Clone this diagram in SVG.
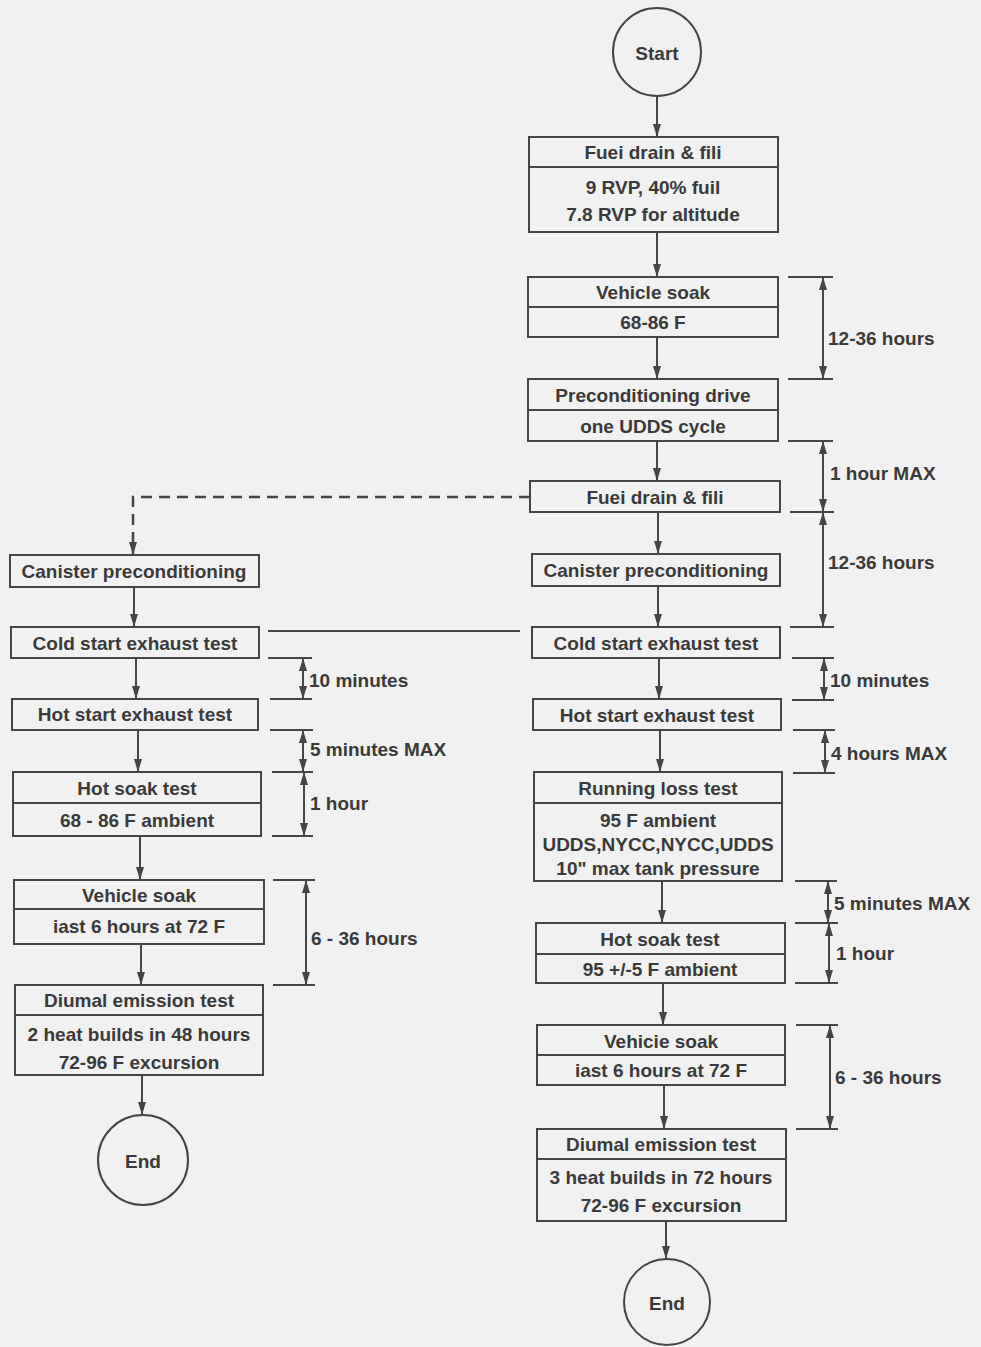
<svg xmlns="http://www.w3.org/2000/svg" width="981" height="1347" viewBox="0 0 981 1347">
<defs>
<style>
.bx{fill:none;stroke:#454545;stroke-width:2}
.ln{fill:none;stroke:#454545;stroke-width:2}
.dash{fill:none;stroke:#454545;stroke-width:2.5;stroke-dasharray:11 7}
.t{font-family:"Liberation Sans",Arial,Helvetica,sans-serif;font-weight:bold;font-size:19px;fill:#3a3a3a;text-anchor:middle;dominant-baseline:central}
.l{text-anchor:start}
</style>
<marker id="ah" viewBox="0 0 13 8" refX="13" refY="4" markerWidth="13" markerHeight="8" markerUnits="userSpaceOnUse" orient="auto-start-reverse">
<path d="M0,0 L13,4 L0,8 z" fill="#454545"/>
</marker>
</defs>
<rect width="981" height="1347" fill="#f1f1f1"/>

<!-- Right column nodes -->
<g id="start">
<circle class="bx" cx="657" cy="52" r="44"/>
<text class="t" x="657" y="53">Start</text>
</g>
<g id="fuel1">
<rect class="bx" x="529" y="137" width="249" height="95"/>
<line class="ln" x1="529" y1="167" x2="778" y2="167"/>
<text class="t" x="653" y="152">Fuei drain &amp; fili</text>
<text class="t" x="653" y="187">9 RVP, 40% fuil</text>
<text class="t" x="653" y="214">7.8 RVP for altitude</text>
</g>
<g id="soak1">
<rect class="bx" x="528" y="277" width="250" height="60"/>
<line class="ln" x1="528" y1="307" x2="778" y2="307"/>
<text class="t" x="653" y="292">Vehicle soak</text>
<text class="t" x="653" y="322">68-86 F</text>
</g>
<g id="precond">
<rect class="bx" x="528" y="379" width="250" height="62"/>
<line class="ln" x1="528" y1="410" x2="778" y2="410"/>
<text class="t" x="653" y="395">Preconditioning drive</text>
<text class="t" x="653" y="426">one UDDS cycle</text>
</g>
<g id="fuel2">
<rect class="bx" x="530" y="481" width="250" height="31"/>
<text class="t" x="655" y="497">Fuei drain &amp; fili</text>
</g>
<g id="canisterR">
<rect class="bx" x="532" y="554" width="248" height="32"/>
<text class="t" x="656" y="570">Canister preconditioning</text>
</g>
<g id="coldR">
<rect class="bx" x="532" y="627" width="248" height="31"/>
<text class="t" x="656" y="643">Cold start exhaust test</text>
</g>
<g id="hotR">
<rect class="bx" x="533" y="699" width="248" height="31"/>
<text class="t" x="657" y="715">Hot start exhaust test</text>
</g>
<g id="running">
<rect class="bx" x="534" y="772" width="248" height="109"/>
<line class="ln" x1="534" y1="803" x2="782" y2="803"/>
<text class="t" x="658" y="788">Running loss test</text>
<text class="t" x="658" y="820">95 F ambient</text>
<text class="t" x="658" y="844">UDDS,NYCC,NYCC,UDDS</text>
<text class="t" x="658" y="868">10" max tank pressure</text>
</g>
<g id="hotsoakR">
<rect class="bx" x="536" y="923" width="249" height="60"/>
<line class="ln" x1="536" y1="954" x2="785" y2="954"/>
<text class="t" x="660" y="939">Hot soak test</text>
<text class="t" x="660" y="969">95 +/-5 F ambient</text>
</g>
<g id="soakR">
<rect class="bx" x="537" y="1025" width="248" height="60"/>
<line class="ln" x1="537" y1="1055" x2="785" y2="1055"/>
<text class="t" x="661" y="1041">Vehicie soak</text>
<text class="t" x="661" y="1070">iast 6 hours at 72 F</text>
</g>
<g id="diurnalR">
<rect class="bx" x="537" y="1129" width="249" height="92"/>
<line class="ln" x1="537" y1="1159" x2="786" y2="1159"/>
<text class="t" x="661" y="1144">Diumal emission test</text>
<text class="t" x="661" y="1177">3 heat builds in 72 hours</text>
<text class="t" x="661" y="1205">72-96 F excursion</text>
</g>
<g id="endR">
<circle class="bx" cx="667" cy="1302" r="43"/>
<text class="t" x="667" y="1303">End</text>
</g>

<!-- Left column nodes -->
<g id="canisterL">
<rect class="bx" x="10" y="555" width="249" height="32"/>
<text class="t" x="134" y="571">Canister preconditioning</text>
</g>
<g id="coldL">
<rect class="bx" x="11" y="627" width="248" height="31"/>
<text class="t" x="135" y="643">Cold start exhaust test</text>
</g>
<g id="hotL">
<rect class="bx" x="12" y="699" width="246" height="31"/>
<text class="t" x="135" y="714">Hot start exhaust test</text>
</g>
<g id="hotsoakL">
<rect class="bx" x="13" y="772" width="248" height="64"/>
<line class="ln" x1="13" y1="803" x2="261" y2="803"/>
<text class="t" x="137" y="788">Hot soak test</text>
<text class="t" x="137" y="820">68 - 86 F ambient</text>
</g>
<g id="soakL">
<rect class="bx" x="14" y="880" width="250" height="64"/>
<line class="ln" x1="14" y1="909" x2="264" y2="909"/>
<text class="t" x="139" y="895">Vehicle soak</text>
<text class="t" x="139" y="926">iast 6 hours at 72 F</text>
</g>
<g id="diurnalL">
<rect class="bx" x="15" y="985" width="248" height="90"/>
<line class="ln" x1="15" y1="1015" x2="263" y2="1015"/>
<text class="t" x="139" y="1000">Diumal emission test</text>
<text class="t" x="139" y="1034">2 heat builds in 48 hours</text>
<text class="t" x="139" y="1062">72-96 F excursion</text>
</g>
<g id="endL">
<circle class="bx" cx="143" cy="1160" r="45"/>
<text class="t" x="143" y="1161">End</text>
</g>

<!-- Connectors -->
<g id="connectors">
<line class="ln" x1="657" y1="96" x2="657" y2="137" marker-end="url(#ah)"/>
<line class="ln" x1="657" y1="232" x2="657" y2="277" marker-end="url(#ah)"/>
<line class="ln" x1="657" y1="337" x2="657" y2="379" marker-end="url(#ah)"/>
<line class="ln" x1="657" y1="441" x2="657" y2="481" marker-end="url(#ah)"/>
<line class="ln" x1="658" y1="512" x2="658" y2="554" marker-end="url(#ah)"/>
<line class="ln" x1="658" y1="586" x2="658" y2="627" marker-end="url(#ah)"/>
<line class="ln" x1="659" y1="658" x2="659" y2="699" marker-end="url(#ah)"/>
<line class="ln" x1="660" y1="730" x2="660" y2="772" marker-end="url(#ah)"/>
<line class="ln" x1="662" y1="881" x2="662" y2="923" marker-end="url(#ah)"/>
<line class="ln" x1="663" y1="983" x2="663" y2="1025" marker-end="url(#ah)"/>
<line class="ln" x1="664" y1="1085" x2="664" y2="1129" marker-end="url(#ah)"/>
<line class="ln" x1="666" y1="1221" x2="666" y2="1259" marker-end="url(#ah)"/>
<path class="dash" d="M530,497 H133 V555" marker-end="url(#ah)"/>
<line class="ln" x1="134" y1="587" x2="134" y2="627" marker-end="url(#ah)"/>
<line class="ln" x1="136" y1="658" x2="136" y2="699" marker-end="url(#ah)"/>
<line class="ln" x1="138" y1="730" x2="138" y2="772" marker-end="url(#ah)"/>
<line class="ln" x1="140" y1="836" x2="140" y2="880" marker-end="url(#ah)"/>
<line class="ln" x1="141" y1="944" x2="141" y2="985" marker-end="url(#ah)"/>
<line class="ln" x1="142" y1="1075" x2="142" y2="1115" marker-end="url(#ah)"/>
</g>

<!-- Time brackets -->
<g id="brackets">
<path class="ln" d="M788,277 H833 M788,379 H833 M788,441 H833 M790,512 H834 M790,627 H834 M792,658 H834 M792,700 H834 M793,730 H835 M793,773 H835 M795,881 H837 M795,923 H838 M795,983 H838 M796,1025 H838 M796,1129 H838"/>
<line class="ln" x1="823" y1="277" x2="823" y2="379" marker-start="url(#ah)" marker-end="url(#ah)"/>
<line class="ln" x1="823" y1="441" x2="823" y2="512" marker-start="url(#ah)" marker-end="url(#ah)"/>
<line class="ln" x1="823" y1="512" x2="823" y2="627" marker-start="url(#ah)" marker-end="url(#ah)"/>
<line class="ln" x1="824" y1="658" x2="824" y2="700" marker-start="url(#ah)" marker-end="url(#ah)"/>
<line class="ln" x1="825" y1="730" x2="825" y2="773" marker-start="url(#ah)" marker-end="url(#ah)"/>
<line class="ln" x1="828" y1="881" x2="828" y2="923" marker-start="url(#ah)" marker-end="url(#ah)"/>
<line class="ln" x1="829" y1="923" x2="829" y2="983" marker-start="url(#ah)" marker-end="url(#ah)"/>
<line class="ln" x1="830" y1="1025" x2="830" y2="1129" marker-start="url(#ah)" marker-end="url(#ah)"/>
<text class="t l" x="828" y="338">12-36 hours</text>
<text class="t l" x="830" y="473">1 hour MAX</text>
<text class="t l" x="828" y="562">12-36 hours</text>
<text class="t l" x="830" y="680">10 minutes</text>
<text class="t l" x="831" y="753">4 hours MAX</text>
<text class="t l" x="834" y="903">5 minutes MAX</text>
<text class="t l" x="836" y="953">1 hour</text>
<text class="t l" x="835" y="1077">6 - 36 hours</text>

<line class="ln" x1="268" y1="631" x2="520" y2="631"/>
<path class="ln" d="M268,658 H312 M270,699 H312 M270,730 H313 M272,772 H313 M272,836 H313 M273,880 H315 M273,985 H315"/>
<line class="ln" x1="303" y1="658" x2="303" y2="699" marker-start="url(#ah)" marker-end="url(#ah)"/>
<line class="ln" x1="303" y1="730" x2="303" y2="772" marker-start="url(#ah)" marker-end="url(#ah)"/>
<line class="ln" x1="304" y1="772" x2="304" y2="836" marker-start="url(#ah)" marker-end="url(#ah)"/>
<line class="ln" x1="306" y1="880" x2="306" y2="985" marker-start="url(#ah)" marker-end="url(#ah)"/>
<text class="t l" x="309" y="680">10 minutes</text>
<text class="t l" x="310" y="749">5 minutes MAX</text>
<text class="t l" x="310" y="803">1 hour</text>
<text class="t l" x="311" y="938">6 - 36 hours</text>
</g>
</svg>
